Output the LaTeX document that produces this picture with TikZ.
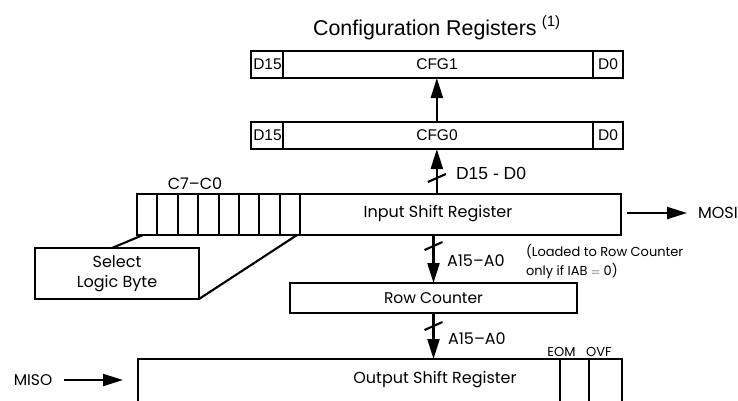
\documentclass[tikz,border=0pt]{standalone}
\usepackage{fontspec}
\setmainfont{Liberation Sans}
\newfontfamily\ag{Poppins}
\usetikzlibrary{arrows.meta,calc}
\begin{document}
\begin{tikzpicture}[x=1pt,y=-1pt,line width=2.1pt,
  reg/.style={draw,inner sep=0pt,outer sep=0pt},
  arr/.style={-{Triangle[length=20pt,width=12pt]}},
  helv/.style={font=\fontsize{15.5}{18}\selectfont,inner sep=0pt},
  agt/.style={font=\ag\fontsize{16}{20}\selectfont,inner sep=0pt},
  ags/.style={font=\ag\fontsize{13}{19}\selectfont,inner sep=0pt}]
\useasboundingbox (0,0) rectangle (738,400);
\clip (0,0) rectangle (738,400);

% title
\node[font=\fontsize{21.4}{26}\selectfont,anchor=base west,inner sep=0pt] (title) at (312,35)
  {Configuration Registers};
\node[font=\fontsize{15}{17}\selectfont,anchor=base west,inner sep=0pt] (titlesup) at ($(title.base east)+(3,-9)$) {(1)};

% CFG1
\node[reg,minimum width=372.3pt,minimum height=27pt] (cfg1) at (436.85,64.5) {};
\draw (283,51) -- (283,78);
\draw (593,51) -- (593,78);
\node[helv] (c1d15) at (267.5,64.5) {D15};
\node[helv] (c1txt) at (437,64.5) {CFG1};
\node[helv] (c1d0) at (608,64.5) {D0};

% CFG0
\node[reg,minimum width=372.3pt,minimum height=27pt] (cfg0) at (436.85,135.5) {};
\draw (283,122) -- (283,149);
\draw (593,122) -- (593,149);
\node[helv] (c0d15) at (267.5,135.5) {D15};
\node[helv] (c0txt) at (437,135.5) {CFG0};
\node[helv] (c0d0) at (608,135.5) {D0};

% Input shift register
\node[reg,minimum width=483.7pt,minimum height=41pt] (isr) at (378.85,214.5) {};
\foreach \i in {1,...,8} \draw (137+20.4*\i,194) -- ++(0,41);
\node[agt] (isrtxt) at (438,214) {Input Shift Register};
\node[agt] (c7c0) at (195,184) {C7–C0};

% Select logic byte
\node[reg,minimum width=164pt,minimum height=51pt,align=center,font=\ag\fontsize{16}{20}\selectfont] (slb) at (117,273.5) {Select\\Logic Byte};
\coordinate (cellbl) at (143,235);
\coordinate (cellbr) at (297,235);
\draw (cellbl) -- ($(slb.north)+(-5,0)$);
\draw (cellbr) -- (slb.south east);

% Row counter
\node[reg,minimum width=287pt,minimum height=30pt,font=\ag\fontsize{15.5}{19}\selectfont] (rc) at (433.5,298) {Row Counter};

% Output shift register
\node[reg,minimum width=484pt,minimum height=52pt] (osr) at (380,385) {};
\draw (560,359) -- (560,402);
\draw (589,359) -- (589,402);
\node[agt] (osrtxt) at (435,380) {Output Shift Register};
\node[ags,anchor=base] (eom) at (561.5,356) {EOM};
\node[ags,anchor=base] (ovf) at (599,356) {OVF};

% arrows
\draw[arr] (cfg0.north) -- (cfg1.south);
\draw[arr] (cfg0.south |- isr.north) -- (cfg0.south);
\draw[arr] (rc.north |- isr.south) -- (rc.north);
\draw[arr] (rc.south) -- (rc.south |- osr.north);

% bus slashes
\draw ($(cfg0.south)+(-9,33)$) -- ++(18,-8);
\draw ($(rc.north)+(-9,-33)$) -- ++(18,-8);
\draw ($(rc.south)+(-9,17)$) -- ++(18,-8);

% bus labels
\node[font=\fontsize{17.5}{20}\selectfont,inner sep=0pt,anchor=west] (dlab) at (455,173) {D15 - D0};
\node[agt,anchor=west] (alab1) at (446,261) {A15–A0};
\node[agt,anchor=west] (alab2) at (447,339) {A15–A0};
\node[ags,anchor=west,align=left] (loaded) at (525,261.5) {(Loaded to Row Counter\\only if IAB $=$ 0)};

% MOSI / MISO
\node[agt,anchor=west] (mosi) at (697,213) {MOSI};
\coordinate (mosis) at ($(isr.east |- mosi.west)+(6,0)$);
\draw[arr] (mosis) -- ($(mosi.west)+(-10,0)$);
\node[font=\ag\fontsize{15.5}{19}\selectfont,inner sep=0pt] (miso) at (33,380) {MISO};
\coordinate (misoe) at ($(osr.west |- miso.east)+(-15,0)$);
\draw[arr] ($(miso.east)+(11,0)$) -- (misoe);
\end{tikzpicture}
\end{document}
